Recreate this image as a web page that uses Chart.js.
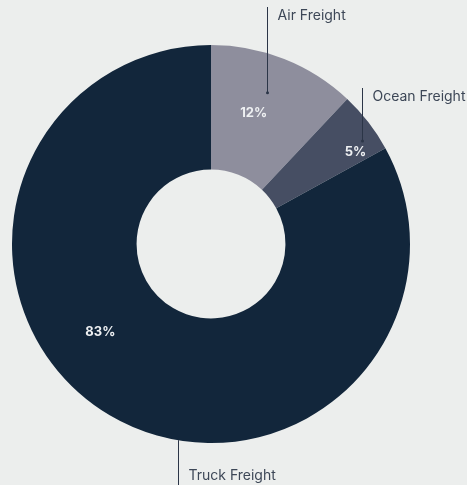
<!DOCTYPE html>
<html>
<head>
<meta charset="utf-8">
<script src="https://cdn.jsdelivr.net/npm/chart.js@4.4.1/dist/chart.umd.min.js"></script>
<style>
  html, body { margin: 0; padding: 0; background: #eceeed; }
  #wrap { width: 467px; height: 485px; }
</style>
</head>
<body>
<div id="wrap"><canvas id="modeChart" width="467" height="485"></canvas></div>
<script>
// Freight share by transport mode
const modes = ['Air Freight', 'Ocean Freight', 'Truck Freight'];
const shares = [12, 5, 83];
const colors = ['#8e8e9d', '#464e63', '#12263b'];

// callout placement per slice: where the leader leaves the arc, where it ends, label offset
const callouts = [
  { frac: 0.47, radius: 0.81, toY: 7,   labelY: 16,  dot: true },
  { frac: 0.70, radius: 0.92, toY: 88,  labelY: 97,  dot: true },
  { frac: 0.43, radius: 1.00, toY: 485, labelY: 476, dot: false }
];
// percent label placement inside each slice
const pctPos = [
  { frac: 0.42, radius: 0.69 },
  { frac: 0.80, radius: 0.86 },
  { frac: 0.57, radius: 0.71 }
];

const calloutPlugin = {
  id: 'callouts',
  afterDatasetsDraw(chart) {
    const ctx = chart.ctx;
    const arcs = chart.getDatasetMeta(0).data;
    ctx.save();
    arcs.forEach((arc, i) => {
      const { x, y, startAngle, endAngle, outerRadius } = arc.getProps(['x', 'y', 'startAngle', 'endAngle', 'outerRadius'], true);

      // percentage text
      const p = pctPos[i];
      const pa = startAngle + (endAngle - startAngle) * p.frac;
      const pr = outerRadius * p.radius;
      ctx.fillStyle = '#eef0f2';
      ctx.font = 'bold 13px Inter, "DejaVu Sans", sans-serif';
      ctx.textAlign = 'center';
      ctx.textBaseline = 'middle';
      ctx.fillText(shares[i] + '%', x + Math.cos(pa) * pr, y + Math.sin(pa) * pr);

      // leader line and mode name
      const c = callouts[i];
      const a = startAngle + (endAngle - startAngle) * c.frac;
      const r = outerRadius * c.radius;
      const lx = Math.round(x + Math.cos(a) * r) + 0.5;
      const ly = y + Math.sin(a) * r;
      ctx.strokeStyle = '#2b3547';
      ctx.lineWidth = 1;
      ctx.beginPath();
      ctx.moveTo(lx, ly);
      ctx.lineTo(lx, c.toY);
      ctx.stroke();
      if (c.dot) {
        ctx.fillStyle = '#2b3547';
        ctx.beginPath();
        ctx.arc(lx, ly, 1.5, 0, Math.PI * 2);
        ctx.fill();
      }
      ctx.fillStyle = '#3d4757';
      ctx.font = '14px Inter, "DejaVu Sans", sans-serif';
      ctx.textAlign = 'left';
      ctx.fillText(modes[i], lx + 10, c.labelY);
    });
    ctx.restore();
  }
};

new Chart(document.getElementById('modeChart'), {
  type: 'doughnut',
  data: {
    labels: modes,
    datasets: [{
      data: shares,
      backgroundColor: colors,
      borderWidth: 0
    }]
  },
  options: {
    responsive: false,
    animation: false,
    cutout: '37.4%',
    layout: { padding: { left: 12, right: 57, top: 45, bottom: 42 } },
    plugins: {
      legend: { display: false },
      tooltip: { enabled: false }
    }
  },
  plugins: [calloutPlugin]
});
</script>
</body>
</html>
